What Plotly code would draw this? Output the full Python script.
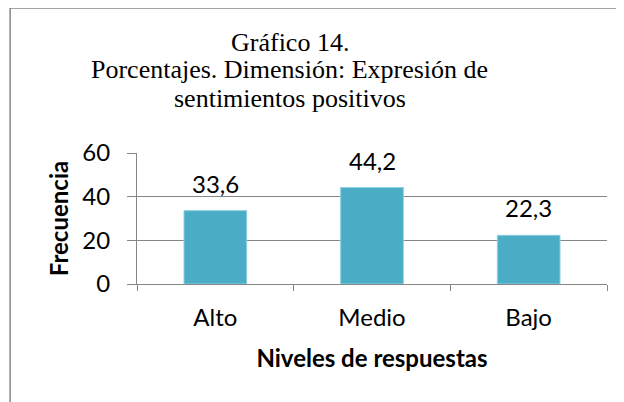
import plotly.graph_objects as go

# Data
categories = ["Alto", "Medio", "Bajo"]
values = [33.6, 44.2, 22.3]
value_labels = ["33,6", "44,2", "22,3"]
y_ticks = [0, 20, 40, 60]
title_lines = ["Gráfico 14.", "Porcentajes. Dimensión: Expresión de", "sentimientos positivos"]

# page body has an 8px margin, so the figure is drawn 8px in from the corner
OFF = 8
W, H = 624 - OFF, 402 - OFF
L = 137 - OFF
T = 153 - OFF
R = W - (607.5 - OFF)
B = H - (284 - OFF)
pw = W - L - R
ph = H - T - B


def px_x(x):
    # reference-screen pixel -> paper coordinate
    return (x - OFF - L) / pw


def px_y(y):
    return (H - B - (y - OFF)) / ph


grey = "#868686"
sans = "Lato"

fig = go.Figure()

fig.add_trace(go.Bar(
    x=categories,
    y=values,
    width=0.4,
    marker=dict(color="#4BACC6", line=dict(color="#8dd0e0", width=1)),
    hoverinfo="skip",
))

# value labels above bars
for cat, v, lab in zip(categories, values, value_labels):
    fig.add_annotation(
        x=cat, y=v, text=lab, showarrow=False,
        yanchor="bottom", yshift=11,
        font=dict(family=sans, size=24, color="black"),
    )

# title, one annotation per line
for i, line in enumerate(title_lines):
    fig.add_annotation(
        xref="paper", yref="paper",
        x=px_x(290), y=px_y(42 + 28 * i),
        xanchor="center", yanchor="middle",
        text=line, showarrow=False,
        font=dict(family="Liberation Serif", size=26, color="black"),
    )

# chart frame (left and top edges visible)
fig.add_shape(type="line", xref="paper", yref="paper",
              x0=px_x(10), x1=px_x(10), y0=px_y(8), y1=px_y(410),
              line=dict(color=grey, width=1.5))
fig.add_shape(type="line", xref="paper", yref="paper",
              x0=px_x(10), x1=px_x(630), y0=px_y(8), y1=px_y(8),
              line=dict(color=grey, width=1.5))

fig.update_layout(
    width=W, height=H,
    margin=dict(l=L, r=R, t=T, b=B),
    plot_bgcolor="white",
    paper_bgcolor="white",
    showlegend=False,
)

fig.update_xaxes(
    type="category",
    showline=True, linecolor=grey, linewidth=1,
    ticks="outside", tickson="boundaries", ticklen=6, tickcolor=grey,
    tickfont=dict(family=sans, size=24, color="black"),
    ticklabelstandoff=12,
    title=dict(text="<b>Niveles de respuestas</b>", standoff=20,
               font=dict(family=sans, size=24, color="black")),
    showgrid=False,
)

fig.update_yaxes(
    range=[0, 60], tickvals=y_ticks,
    showgrid=True, gridcolor=grey, gridwidth=1,
    showline=True, linecolor=grey, linewidth=1,
    ticks="outside", ticklen=9, tickcolor=grey,
    tickfont=dict(family=sans, size=24, color="black"),
    ticklabelstandoff=12,
    zeroline=False,
    title=dict(text="<b>Frecuencia</b>", standoff=6,
               font=dict(family=sans, size=24, color="black")),
)

fig.write_html("out.html")
